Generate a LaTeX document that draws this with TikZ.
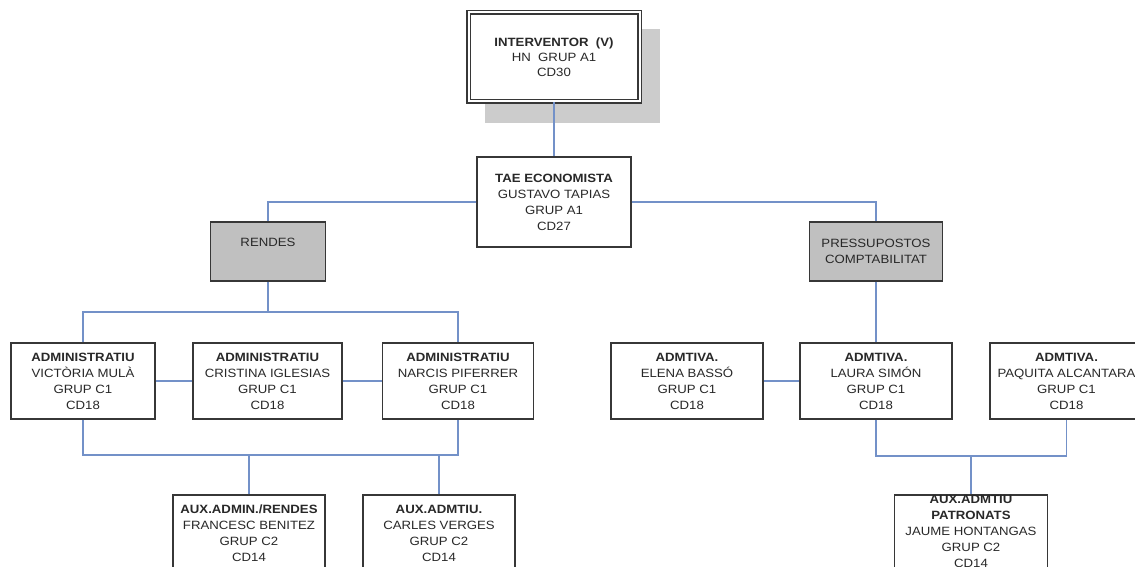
\documentclass[tikz,border=0pt]{standalone}
\usepackage{fontspec}
\setmainfont[FakeStretch=1.1]{Liberation Sans}
\definecolor{conn}{RGB}{115,145,200}
\definecolor{bordc}{RGB}{55,55,55}
\definecolor{txtc}{RGB}{40,40,40}
\definecolor{boxgray}{RGB}{192,192,192}
\definecolor{shadowgray}{RGB}{204,204,204}
\tikzset{
  box/.style={draw=bordc, line width=1.3pt, fill=white, rectangle, inner sep=0pt,
    align=center, text=txtc, font=\fontsize{12}{16}\selectfont},
  graybox/.style={box, fill=boxgray},
  txt/.style={inner sep=0pt, align=center, text=txtc, font=\fontsize{12}{16}\selectfont},
  link/.style={draw=conn, line width=1.5pt},
  wbox/.style={box, minimum height=76pt}
}
\begin{document}
\begin{tikzpicture}[x=1pt,y=-1pt]
\useasboundingbox (0,0) rectangle (1135,567);
% shadow of the top box
\fill[shadowgray] (485,29) rectangle (660,123);
% nodes
\node[box, minimum width=171pt, minimum height=89pt, double=white, double distance=2pt, line width=1.2pt,
  font=\fontsize{12}{15}\selectfont] (interv) at (554,57)
  {\textbf{INTERVENTOR\ \ (V)}\\HN\ \ GRUP A1\\CD30};
\node[box, minimum width=154pt, minimum height=90pt] (tae) at (554,202)
  {\textbf{TAE ECONOMISTA}\\GUSTAVO TAPIAS\\GRUP A1\\CD27};
\node[graybox, minimum width=115pt, minimum height=59pt] (rendes) at (268,251.5) {};
\node[txt] (rendesT) at (268,242) {RENDES};
\node[graybox, minimum width=133pt, minimum height=59pt] (press) at (876,251.5)
  {PRESSUPOSTOS\\COMPTABILITAT};
\node[wbox, minimum width=144pt] (adm1) at (83,381)
  {\textbf{ADMINISTRATIU}\\VICTÒRIA MULÀ\\GRUP C1\\CD18};
\node[wbox, minimum width=149pt] (adm2) at (267.5,381)
  {\textbf{ADMINISTRATIU}\\CRISTINA IGLESIAS\\GRUP C1\\CD18};
\node[wbox, minimum width=151pt] (adm3) at (458,381)
  {\textbf{ADMINISTRATIU}\\NARCIS PIFERRER\\GRUP C1\\CD18};
\node[wbox, minimum width=152pt] (elena) at (687,381)
  {\textbf{ADMTIVA.}\\ELENA BASSÓ\\GRUP C1\\CD18};
\node[wbox, minimum width=152pt] (laura) at (876,381)
  {\textbf{ADMTIVA.}\\LAURA SIMÓN\\GRUP C1\\CD18};
\node[wbox, minimum width=153pt] (paquita) at (1066.5,381)
  {\textbf{ADMTIVA.}\\PAQUITA ALCANTARA\\GRUP C1\\CD18};
\node[box, minimum width=152pt, minimum height=77pt] (aux1) at (249,533.5)
  {\textbf{AUX.ADMIN./RENDES}\\FRANCESC BENITEZ\\GRUP C2\\CD14};
\node[box, minimum width=152pt, minimum height=77pt] (aux2) at (439,533.5)
  {\textbf{AUX.ADMTIU.}\\CARLES VERGES\\GRUP C2\\CD14};
\node[box, minimum width=153pt, minimum height=77pt] (auxp) at (971,533.5) {};
\node[txt] (auxpT) at (971,531)
  {\textbf{AUX.ADMTIU}\\\textbf{PATRONATS}\\JAUME HONTANGAS\\GRUP C2\\CD14};
% coordinates for junctions
\coordinate (rb) at (268,312);
\coordinate (lb) at (268,455);
\coordinate (rbb) at (971,456);
% connectors
\draw[link] (interv.south) -- (tae.north);
\draw[link] (tae.west) -| (rendes.north);
\draw[link] (tae.east) -| (press.north);
\draw[link] (rendes.south) -- (rb);
\draw[link] (adm1.north) |- (rb) -| (adm3.north);
\draw[link] (adm1.east) -- (adm2.west);
\draw[link] (adm2.east) -- (adm3.west);
\draw[link] (adm1.south) -- (adm1.south |- lb) -- (adm3.south |- lb) -- (adm3.south);
\draw[link] (aux1.north) -- (aux1.north |- lb);
\draw[link] (aux2.north) -- (aux2.north |- lb);
\draw[link] (press.south) -- (laura.north);
\draw[link] (elena.east) -- (laura.west);
\draw[link] (laura.south) -- (laura.south |- rbb) -- (paquita.south |- rbb) -- (paquita.south);
\draw[link] (auxp.north) -- (rbb);
\end{tikzpicture}
\end{document}
